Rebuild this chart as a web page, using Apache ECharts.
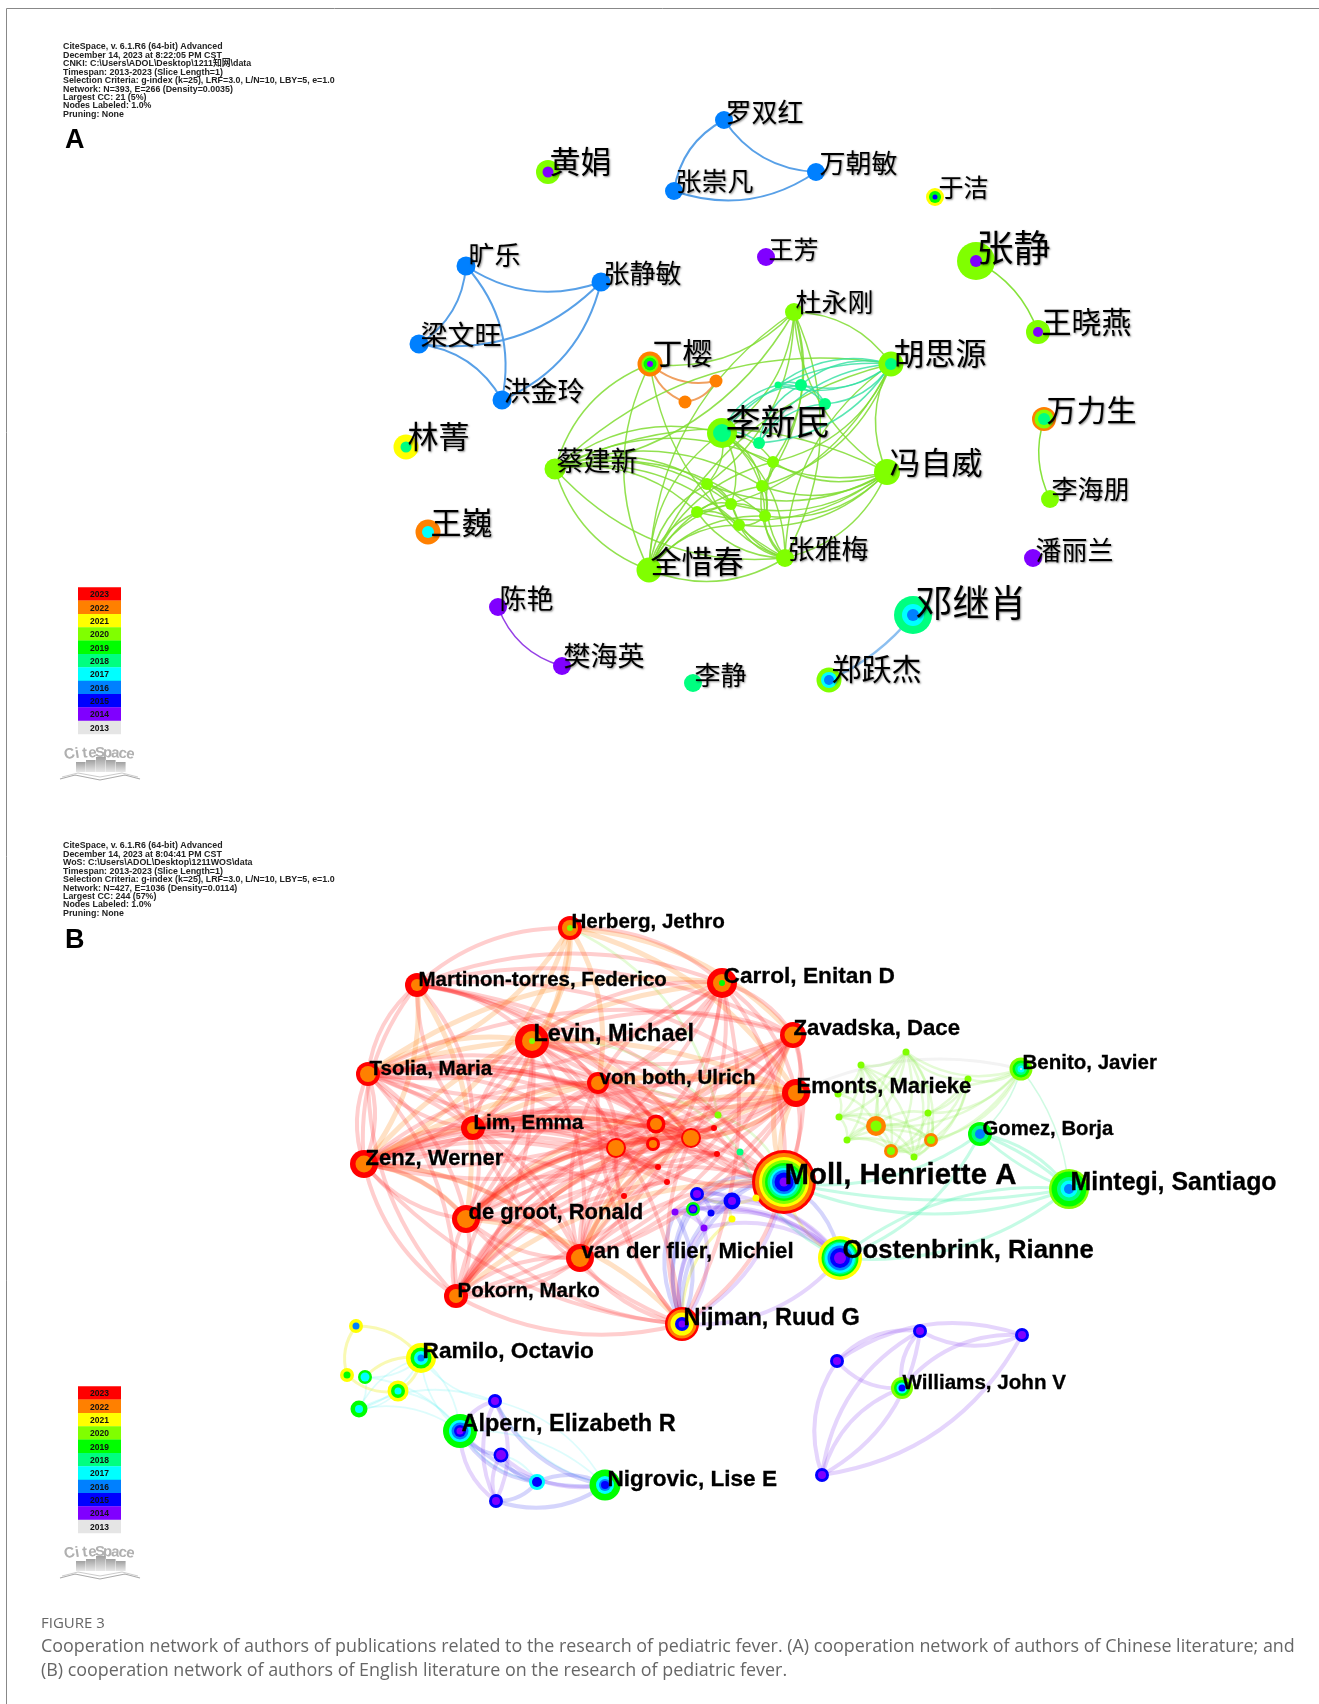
<!DOCTYPE html>
<html>
<head>
<meta charset="utf-8">
<title>Cooperation network of authors</title>
<style>
  html, body { margin: 0; padding: 0; background: #fff; }
  #main { width: 1319px; height: 1704px; }
</style>
<script src="https://cdn.jsdelivr.net/npm/echarts@6/dist/echarts.min.js"></script>
</head>
<body>
<div id="main"></div>
<script>
// 年份色标
const years = ['2023','2022','2021','2020','2019','2018','2017','2016','2015','2014','2013'];
const yearColors = ['#ff0000','#ff8000','#ffff00','#80ff00','#00ff00','#00ff80','#00ffff','#0080ff','#0000ff','#8000ff','#e5e5e5'];

// 节点: id, x, y, 年轮 [年份, 半径] (由外到内)
const nodesA = [
  ['huangjuan',548,172,[[2020,12],[2014,5.5]]],
  ['luo',724,120,[[2016,9]]],
  ['wanzhao',816,172,[[2016,9]]],
  ['zhangchong',674,191,[[2016,9]]],
  ['yujie',935,197,[[2021,9],[2019,6],[2015,2.5]]],
  ['wangfang',766,257,[[2014,9]]],
  ['zhangjing',976,261,[[2020,19],[2014,6]]],
  ['wangxiao',1038,332,[[2020,12],[2014,5]]],
  ['wanli',1044,419,[[2022,12],[2020,9.5],[2018,6]]],
  ['lihai',1050,499,[[2020,9]]],
  ['panli',1033,558,[[2014,9]]],
  ['deng',913,615,[[2018,19],[2017,11],[2016,6]]],
  ['zhengyue',829,680,[[2020,12.5],[2017,8],[2016,5]]],
  ['chenyan',498,607,[[2014,9]]],
  ['fanhai',562,666,[[2014,9]]],
  ['lijing',693,683,[[2018,9]]],
  ['kuang',466,266,[[2016,9.5]]],
  ['zhangmin',601,282,[[2016,9.5]]],
  ['liang',419,344,[[2016,9.5]]],
  ['hong',502,400,[[2016,9.5]]],
  ['linjing',406,447,[[2021,12.5],[2018,5.5]]],
  ['wangwei',428,532,[[2022,12.5],[2017,6]]],
  ['d',794,312,[[2020,9]]],
  ['h',891,364,[[2020,12.5],[2018,6]]],
  ['y',650,364,[[2022,12.5],[2020,8.5],[2019,6.5],[2014,3]]],
  ['o1',716,381,[[2022,6.5]]],
  ['o2',685,402,[[2022,6.5]]],
  ['l',722,433,[[2020,15],[2018,9]]],
  ['s0',759,443,[[2018,6]]],
  ['s1',778,385,[[2018,3.5]]],
  ['s2',801,385,[[2018,6]]],
  ['s3',825,404,[[2018,6]]],
  ['c',555,469,[[2020,10.5]]],
  ['f',887,472,[[2020,13]]],
  ['g1',773,462,[[2020,6]]],
  ['g2',707,484,[[2020,6]]],
  ['g3',762,486,[[2020,6]]],
  ['g4',731,504,[[2020,6]]],
  ['g5',697,512,[[2020,6]]],
  ['g6',765,516,[[2020,6]]],
  ['g7',739,525,[[2020,6]]],
  ['z',785,558,[[2020,9]]],
  ['q',649,570,[[2020,12.5]]]
];
const nodesB = [
  ['He',570,928,[[2023,12],[2022,8],[2020,3]]],
  ['Ma',417,985,[[2023,12],[2022,6]]],
  ['Ca',722,983,[[2023,15],[2022,9],[2019,3]]],
  ['Le',532,1041,[[2023,17],[2022,10],[2020,3]]],
  ['Za',793,1035,[[2023,13],[2022,8.5]]],
  ['Ts',368,1074,[[2023,12],[2022,8]]],
  ['Vo',598,1083,[[2023,11],[2022,7]]],
  ['Em',796,1093,[[2023,14],[2022,8]]],
  ['Li',473,1128,[[2023,12],[2022,6]]],
  ['r1',656,1124,[[2023,9.5],[2022,6]]],
  ['r2',653,1144,[[2023,7],[2022,4]]],
  ['r3',691,1138,[[2023,10],[2022,8]]],
  ['r4',616,1148,[[2023,10],[2022,8]]],
  ['Ze',364,1164,[[2023,14],[2022,8.5]]],
  ['Dg',466,1219,[[2023,14],[2022,9]]],
  ['Vf',580,1258,[[2023,14],[2022,9]]],
  ['Po',456,1296,[[2023,12],[2022,7]]],
  ['d1',714,1128,[[2023,3]]],
  ['d2',717,1154,[[2023,3]]],
  ['d3',658,1167,[[2023,3]]],
  ['d4',667,1182,[[2023,3]]],
  ['d5',624,1196,[[2023,3]]],
  ['gy',718,1115,[[2020,3.5]]],
  ['sp',740,1152,[[2018,3.5]]],
  ['Ni',682,1324,[[2023,17],[2022,14.5],[2021,11.5],[2015,7],[2014,3.5]]],
  ['Mo',784,1182,[[2023,32],[2022,29],[2021,25],[2020,22],[2019,19],[2018,16.5],[2017,14],[2016,12],[2015,9.5],[2014,4.5]]],
  ['Oo',840,1258,[[2021,22],[2019,18.5],[2018,16.5],[2017,15],[2016,12.5],[2015,10],[2014,6]]],
  ['p1',697,1194,[[2015,7],[2014,4]]],
  ['p2',732,1201,[[2015,8.5],[2014,4]]],
  ['p3',693,1209,[[2019,7],[2015,4.5],[2014,3]]],
  ['p4',675,1212,[[2014,3.5]]],
  ['p5',711,1213,[[2015,3.5]]],
  ['p6',704,1228,[[2014,3.5]]],
  ['ye1',756,1198,[[2021,3.5]]],
  ['ye2',732,1219,[[2021,3.5]]],
  ['c1',906,1052,[[2020,3.5]]],
  ['c2',861,1065,[[2020,3.5]]],
  ['c3',968,1079,[[2020,3.5]]],
  ['c4',838,1094,[[2020,3.5]]],
  ['c5',839,1117,[[2020,3.5]]],
  ['c6',847,1140,[[2020,3.5]]],
  ['c7',876,1126,[[2022,10],[2020,5.5]]],
  ['c8',928,1113,[[2020,3.5]]],
  ['c9',931,1140,[[2022,7],[2020,4]]],
  ['c10',891,1151,[[2022,7],[2020,4]]],
  ['c11',914,1157,[[2020,3.5]]],
  ['Be',1021,1069,[[2020,11.5],[2019,8.5],[2018,6],[2017,3.5],[2013,1]]],
  ['Go',980,1134,[[2019,12],[2018,8.5],[2016,5]]],
  ['Mi',1069,1189,[[2020,20],[2019,17.5],[2018,12],[2017,8.5],[2016,5]]],
  ['b1',356,1326,[[2021,7],[2016,3.5]]],
  ['Ra',421,1358,[[2021,15],[2019,10.5],[2017,7],[2016,3.5]]],
  ['b2',347,1375,[[2021,7],[2019,3.5]]],
  ['b3',365,1377,[[2019,7],[2017,4.5]]],
  ['b4',398,1391,[[2021,10.5],[2019,7],[2017,3.5]]],
  ['b5',359,1409,[[2019,8.5],[2017,4]]],
  ['b6',495,1401,[[2015,7],[2014,4]]],
  ['Al',460,1431,[[2019,17],[2017,11],[2016,8.5],[2015,6],[2014,3.5]]],
  ['b7',501,1455,[[2015,7.5],[2014,5]]],
  ['b8',537,1482,[[2017,8],[2015,5]]],
  ['b9',496,1501,[[2015,7],[2014,4]]],
  ['Ng',605,1485,[[2019,15.5],[2017,9],[2016,6],[2015,4]]],
  ['w1',920,1331,[[2015,7],[2014,4]]],
  ['w2',1022,1335,[[2015,7],[2014,4]]],
  ['w3',837,1361,[[2015,7],[2014,4]]],
  ['Wi',902,1388,[[2020,11],[2019,8],[2017,5.5],[2015,3.5]]],
  ['w4',822,1475,[[2015,7],[2014,4]]]
];

// 连线: 'a-b' 从 a 到 b, 弧线向行进方向左侧弯曲
const blueEdges = 'kuang-liang kuang-hong zhangmin-liang zhangmin-hong zhangmin-kuang liang-hong zhangchong-luo wanzhao-luo wanzhao-zhangchong'.split(' ');
const singleEdges = ['zhangjing-wangxiao','lihai-wanli'];
const violetEdgesA = ['fanhai-chenyan'];
const azureEdgesA = ['deng-zhengyue'];
const orangeEdgesA = ['o1-y','o2-y','o1-o2'];
const greenEdgesA = ('d-y c-y q-y z-y d-h d-c q-d d-z f-d d-l c-h q-h z-h f-h f-z q-c z-q c-f z-c c-l q-l l-z f-l ' +
  'q-g1 q-g2 q-g3 q-g4 q-g5 q-g6 q-g7 c-g1 c-g2 c-g3 c-g4 c-g5 c-g6 c-g7 ' +
  'f-g1 f-g2 f-g3 f-g4 f-g5 f-g6 f-g7 z-g1 z-g2 z-g3 z-g4 z-g5 z-g6 z-g7 ' +
  'l-g1 l-g2 l-g3 l-g4 l-g6 d-g1 d-g3 d-g2 h-g1 h-g3 h-g5 g2-g4 g2-g7 g5-g4 g1-g3 g3-g6 g4-g6 g5-g7 g6-g7').split(' ');
const springEdgesA = 'l-h s0-h h-s0 h-s1 s1-h s2-h h-s2 h-s3 l-s1 l-s2 l-s0 s1-s2 s2-s3 s1-s3 s0-s3 s0-s2'.split(' ');

const redEdges = ('He-Ca Ma-He Ma-Ca Ma-Za Ma-Em Ma-Mo Ma-Le Ma-Vo Ma-r1 Ma-r3 Ma-Li Li-Ma Ze-Ma Ts-Ma Ze-Ts Ts-Ze ' +
  'Ca-Za Ca-Em Ca-Mo Ca-Vo Vo-Ca Ca-r3 Ca-r1 Ca-Le Le-Ca Ca-Dg Ca-Li Ca-Vf Ca-Ni Ca-Ts Za-Em Za-Mo Za-Le Le-Za Za-Vo Za-r1 Za-r3 Za-r4 Za-Li Za-Ts Ts-Za Za-Dg Za-Vf Za-Ze Za-Po ' +
  'Em-Mo Em-Le Em-Vo Em-r3 Em-Ts Em-Li Em-Ze Em-Dg Em-Po Em-Vf ' +
  'Le-Ts Le-Li Li-Le Le-Vo Le-r1 Le-r4 Le-Ze Le-Dg Le-Mo Le-Vf Le-Ni Le-Po ' +
  'Ts-Li Li-Ts Ts-Vo Ts-r1 Ts-r2 Ts-r4 Ts-r3 Ts-d1 Ts-d2 Ts-Mo Ts-Dg Ts-Vf Ts-Po Po-Ts ' +
  'Li-r1 Li-r2 Li-r3 Li-r4 Li-Vo Li-Ze Ze-Li Li-Dg Li-Vf Li-Mo Li-d3 Li-d4 ' +
  'Ze-r1 Ze-r2 Ze-r3 Ze-r4 Ze-Vo Ze-Dg Dg-Ze Ze-d3 Ze-d4 Ze-d5 Ze-Mo Po-Ze Ze-Vf ' +
  'Dg-r1 Dg-r2 Dg-r3 Dg-r4 Dg-Vo Dg-d1 Dg-d2 Dg-Mo Po-Dg Dg-Po Dg-Vf Vf-Dg ' +
  'Po-r1 Po-r2 Po-r3 Po-r4 Po-Vo Po-d1 Po-d2 Po-d4 Po-Vf Vf-Po Ni-Po Ni-Vf Ni-Dg Ni-Li Ni-Ze Ni-Vo Ni-r4 ' +
  'Vf-r1 Vf-r2 Vf-r3 Vf-r4 Vf-Vo Vf-Mo Vf-d2 Mo-Ni Ni-r3 ' +
  'Vo-r1 Vo-r2 Vo-r3 Vo-r4 r1-r3 r2-r3 r4-r1 r4-r2 r4-r3 r1-r2 d1-r1 d1-r3 d2-r3 d2-r1 d3-r4 d4-r3 d5-r4 d5-r3 Mo-r3 Mo-r1 Mo-d1 Mo-d2 Mo-r4').split(' ');
const orangeEdges = ('He-Le He-Ze He-Ts He-Li He-Vo He-Za He-Em Ma-Dg Ze-Em Ze-r3 Ts-Le Ts-Ca Le-r3 Li-Em Dg-Em Dg-r3 Po-Em Po-Mo Vf-Em Vf-Za ' +
  'Ze-Dg Ts-Em Ma-Ze Ze-Vf Dg-Ni Vf-r3 Em-r3 Mo-Em Mo-Za Ze-Ca').split(' ');
const limeEdgesB = ('He-gy Le-gy Vo-sp gy-Mo ' +
  'c1-c2 c2-c4 c1-c4 c1-c5 c1-c6 c7-c1 c2-c5 c2-c6 c2-c7 c4-c5 c5-c6 c4-c7 c5-c7 c6-c7 c7-c10 c6-c10 ' +
  'c1-c8 c1-c9 c1-c10 c1-c11 c3-c1 c3-c8 c3-c9 c3-c10 c3-c11 c3-c7 c8-c9 c8-c10 c8-c11 c9-c10 c9-c11 c10-c11 c2-c10 c2-c11 ' +
  'c7-c9 c7-c11 c7-c8 c6-c11 c6-c9 c5-c9 c5-c10 Be-c1 Be-c3 Be-c7 Be-c8 Be-c9 Be-c10 Be-c2').split(' ');
const paleEdges = ['Em-Be'];
const springEdges = 'Oo-sp Go-Mi Mi-Mo Oo-Mi Go-Mo Go-Oo Mi-Oo'.split(' ');
const springFlatEdges = 'Mi-Mo Go-Mi Mi-Go'.split(' ');
const thinEdges = 'Be-Go Be-Mi'.split(' ');
const blueEdgesB = ('Mo-Oo Ni-p1 Ni-p2 Ni-p3 Ni-p5 p1-p2 p2-p1 p1-p5 p3-p5 p2-p5 p1-Mo p2-Mo p3-Mo p5-Mo Ni-p4 p4-Ni ' +
  'b8-Al Ng-Al b8-b7 Ng-b6 b8-b9 Ng-b9 b8-Ng b7-Al').split(' ');
const violetEdgesB = ('Oo-Ni p1-Oo p2-Oo p3-Oo p4-Oo p5-Oo p6-Oo Ni-p6 p6-Ni p4-p6 p6-p2 p6-p1 p4-p3 p3-p2 Mo-Ni ' +
  'Al-b6 b9-b6 b6-b9 b9-Al b9-b7 Ng-b7 w4-w3 w3-w1 w2-w1 w3-w2 w2-w4 w4-w1 w1-w4 Wi-w3 Wi-w1 Wi-w2 w4-Wi').split(' ');
const yellowEdges = 'Oo-Mo Ni-ye2 ye2-p2 ye1-p1 b1-Ra Ra-b4 b2-b1 b4-b2 b3-Ra'.split(' ');
const cyanEdges = 'Ra-b3 Ra-b5 b5-Ra b5-Al b3-b5 b4-b5 b3-Al Ra-Al Al-Ra b4-Al b6-Ra b5-b6 Al-Ng Ng-b6 b6-Ng b8-Al b7-b8'.split(' ');

// 图内文字: 文字, x, y, 字号
const labelsA = [
  ['黄娟',549,161,31],['罗双红',725,112,26],['万朝敏',819,163,26],['张崇凡',675,181,26],['于洁',938,187,25],
  ['王芳',768,249,25],['张静',976,248,37],['旷乐',468,255,26],['张静敏',603,273,26],['杜永刚',795,302,26],
  ['梁文旺',420,335,27],['丁樱',652,353,30],['胡思源',893,353,31],['王晓燕',1041,322,30],['洪金玲',503,391,27],
  ['万力生',1046,410,30],['林菁',407,436,31],['李新民',725,422,35],['蔡建新',556,461,27],['冯自威',889,462,31],
  ['李海朋',1051,489,26],['王巍',430,522,31],['张雅梅',787,549,27],['潘丽兰',1035,550,26],['全惜春',650,561,31],
  ['陈艳',499,599,27],['邓继肖',915,603,37],['樊海英',563,656,27],['郑跃杰',831,669,30],['李静',694,675,26]
];
const labelsB = [
  ['Herberg, Jethro',571,922,20.6],['Martinon-torres, Federico',418,980,20.5],['Carrol, Enitan D',723,977,22.7],
  ['Levin, Michael',533,1035,23.5],['Zavadska, Dace',793,1029,22.2],['Tsolia, Maria',369,1069,20.5],
  ['von both, Ulrich',599,1078,20.5],['Emonts, Marieke',796,1087,22],['Lim, Emma',473,1123,20.6],
  ['Zenz, Werner',365,1159,22],['de groot, Ronald',468,1213,22],['van der flier, Michiel',581,1252,22.2],
  ['Pokorn, Marko',457,1291,20.5],['Nijman, Ruud G',683,1319,23.5],['Moll, Henriette A',784,1176,29.4],
  ['Mintegi, Santiago',1070,1183,24.9],['Oostenbrink, Rianne',842,1251,25.7],['Gomez, Borja',982,1129,20.3],
  ['Benito, Javier',1022,1063,20.5],['Ramilo, Octavio',422,1352,22.7],['Alpern, Elizabeth R',461,1425,23.5],
  ['Nigrovic, Lise E',607,1480,22.6],['Williams, John V',902,1383,20.6]
];

// 左上角说明
const infoA = ['CiteSpace, v. 6.1.R6 (64-bit) Advanced','December 14, 2023 at 8:22:05 PM CST','CNKI: C:\\Users\\ADOL\\Desktop\\1211知网\\data',
  'Timespan: 2013-2023 (Slice Length=1)','Selection Criteria: g-index (k=25), LRF=3.0, L/N=10, LBY=5, e=1.0','Network: N=393, E=266 (Density=0.0035)',
  'Largest CC: 21 (5%)','Nodes Labeled: 1.0%','Pruning: None'];
const infoB = ['CiteSpace, v. 6.1.R6 (64-bit) Advanced','December 14, 2023 at 8:04:41 PM CST','WoS: C:\\Users\\ADOL\\Desktop\\1211WOS\\data',
  'Timespan: 2013-2023 (Slice Length=1)','Selection Criteria: g-index (k=25), LRF=3.0, L/N=10, LBY=5, e=1.0','Network: N=427, E=1036 (Density=0.0114)',
  'Largest CC: 244 (57%)','Nodes Labeled: 1.0%','Pruning: None'];
const captionTitle = 'FIGURE 3';
const captionLines = ['Cooperation network of authors of publications related to the research of pediatric fever. (A) cooperation network of authors of Chinese literature; and',
  '(B) cooperation network of authors of English literature on the research of pediatric fever.'];

const panelOffset = 799; // B 与 A 的纵向间距
const allNodes = nodesA.concat(nodesB);
const colorOf = y => yearColors[years.indexOf(String(y))];

// 连线分组 -> graph links
function toLinks(list, color, width, opacity, curveness) {
  return list.map(e => {
    const p = e.split('-');
    return { source: p[0], target: p[1], lineStyle: { color, width, opacity, curveness } };
  });
}
const links = [].concat(
  toLinks(blueEdges, '#4f9be6', 2, 0.95, 0.25),
  toLinks(singleEdges, '#80e030', 1.5, 0.95, 0.2),
  toLinks(violetEdgesA, '#8a2be2', 1.5, 0.9, 0.25),
  toLinks(azureEdgesA, '#7fb8ee', 2.5, 0.9, 0.12),
  toLinks(orangeEdgesA, '#f0a060', 2, 1, 0.25),
  toLinks(greenEdgesA, '#7fdc30', 1.5, 0.85, 0.25),
  toLinks(springEdgesA, '#30e0a0', 1.5, 0.8, 0.25),
  toLinks(paleEdges, '#e8e8e8', 3, 0.5, 0.18),
  toLinks(limeEdgesB, '#90f050', 2.5, 0.24, 0.25),
  toLinks(springEdges, '#30f0a0', 3, 0.28, 0.2),
  toLinks(springFlatEdges, '#30f0a0', 3, 0.28, 0.1),
  toLinks(thinEdges, '#60f0a0', 1.5, 0.3, 0.15),
  toLinks(cyanEdges, '#40f0f0', 1.8, 0.18, 0.22),
  toLinks(yellowEdges, '#f0f040', 3, 0.4, 0.25),
  toLinks(blueEdgesB, '#4040f0', 4, 0.22, 0.25),
  toLinks(violetEdgesB, '#8a40f0', 4, 0.22, 0.25),
  toLinks(orangeEdges, '#ff8a20', 5, 0.26, 0.2),
  toLinks(redEdges, '#ff2020', 4, 0.22, 0.2)
);

// 节点年轮展开成散点
const ringData = [];
allNodes.forEach(n => n[3].forEach(r => ringData.push([n[1], n[2], r[1], r[0]])));

// 色标
const legendData = [];
[0, panelOffset].forEach(off => years.forEach((y, i) => legendData.push([99.5, 594 + i * 13.35 + off, y])));

const option = {
  animation: false,
  backgroundColor: '#fff',
  grid: { left: 0, right: 0, top: 0, bottom: 0 },
  xAxis: { type: 'value', min: 0, max: 1319, show: false },
  yAxis: { type: 'value', min: 0, max: 1704, inverse: true, show: false },
  series: [
    {
      type: 'graph', coordinateSystem: 'cartesian2d', layout: 'none', symbol: 'none', silent: true,
      data: allNodes.map(n => ({ name: n[0], value: [n[1], n[2]] })),
      links,
      label: { show: false },
      z: 1
    },
    {
      name: 'rings', type: 'scatter', silent: true, z: 2,
      data: ringData,
      symbolSize: v => v[2] * 2,
      itemStyle: { opacity: 1, color: p => colorOf(p.value[3]) }
    },
    {
      name: 'labelsA', type: 'scatter', silent: true, z: 3, symbolSize: 1,
      itemStyle: { color: 'transparent', opacity: 1 }, // 散点默认 0.8 会让文字发灰
      data: labelsA.map(l => ({ value: [l[1], l[2]], name: l[0], label: { fontSize: l[3] } })),
      label: {
        show: true, position: 'right', distance: 0, formatter: '{b}', color: '#000',
        fontFamily: '"Noto Sans CJK SC"', textShadowColor: 'rgba(0,0,0,0.45)', textShadowBlur: 2, textShadowOffsetX: 1, textShadowOffsetY: 1
      }
    },
    {
      name: 'labelsB', type: 'scatter', silent: true, z: 3, symbolSize: 1,
      itemStyle: { color: 'transparent', opacity: 1 },
      data: labelsB.map(l => ({ value: [l[1], l[2]], name: l[0], label: { fontSize: l[3] } })),
      label: {
        show: true, position: 'right', distance: 0, formatter: '{b}', color: '#000',
        fontFamily: '"Liberation Sans"', fontWeight: 'bold', textBorderColor: '#000', textBorderWidth: 0.3
      }
    },
    {
      name: 'yearLegend', type: 'scatter', silent: true, z: 2, symbol: 'rect', symbolSize: [43, 13.6],
      data: legendData,
      itemStyle: { opacity: 1, color: p => colorOf(p.value[2]) },
      label: {
        show: true, position: 'inside', formatter: p => p.value[2], color: '#111',
        fontFamily: '"Liberation Sans"', fontWeight: 'bold', fontSize: 8.5, offset: [0, 1]
      }
    }
  ],
  graphic: { elements: buildGraphic() }
};

// 边框, 说明文字, 图注, CiteSpace 标志
function buildGraphic() {
  const els = [
    { type: 'line', shape: { x1: 6.5, y1: 8.5, x2: 1319, y2: 8.5 }, style: { stroke: '#888', lineWidth: 1 } },
    { type: 'line', shape: { x1: 6.5, y1: 8.5, x2: 6.5, y2: 1704 }, style: { stroke: '#888', lineWidth: 1 } }
  ];
  const text = (x, y, t, font, fill) => ({ type: 'text', x, y, style: { text: t, font, fill, textVerticalAlign: 'middle' } });
  infoA.forEach((t, i) => els.push(text(63, 47 + i * 8.42, t, 'bold 8.85px "Liberation Sans", "Noto Sans CJK SC"', '#222')));
  infoB.forEach((t, i) => els.push(text(63, 47 + panelOffset + i * 8.42, t, 'bold 8.85px "Liberation Sans", "Noto Sans CJK SC"', '#222')));
  els.push(text(65, 141, 'A', 'bold 27px "Liberation Sans"', '#000'));
  els.push(text(65, 941, 'B', 'bold 27px "Liberation Sans"', '#000'));
  els.push(text(41, 1624, captionTitle, '15px "Open Sans"', '#666'));
  captionLines.forEach((t, i) => els.push(text(41, 1647 + i * 24, t, '17.9px "Open Sans"', '#666')));
  [0, panelOffset].forEach(off => {
    const letters = 'CiteSpace'.split('');
    letters.forEach((ch, i) => {
      const a = (i - 4) * 0.05;
      els.push({
        type: 'text', x: 100 + (i - 4) * 7.6, y: 756 + off - 3 * Math.cos(a * 5), rotation: -a,
        style: { text: ch, font: 'bold 15px "Liberation Sans"', fill: '#b0b0b0', textAlign: 'center', textVerticalAlign: 'middle' }
      });
    });
    [[76, 10], [86, 12], [96, 15], [106, 12], [116, 10]].forEach(b => {
      els.push({
        type: 'rect', shape: { x: b[0], y: 774 + off - b[1] - 2, width: 9.6, height: b[1] },
        style: { fill: new echarts.graphic.LinearGradient(0, 0, 0, 1, [{ offset: 0, color: '#a0a0a0' }, { offset: 1, color: '#e8e8e8' }]) }
      });
    });
    els.push({ type: 'polyline', shape: { points: [[60, 779 + off], [75, 775 + off], [100, 780 + off], [125, 775 + off], [140, 779 + off]] }, style: { stroke: '#aaa', fill: 'none', lineWidth: 1.2 } });
    els.push({ type: 'polyline', shape: { points: [[62, 777 + off], [78, 773 + off], [100, 777 + off], [122, 773 + off], [138, 777 + off]] }, style: { stroke: '#ccc', fill: 'none', lineWidth: 1 } });
  });
  return els;
}

const myChart = echarts.init(document.getElementById('main'));
myChart.setOption(option);
window.addEventListener('resize', () => myChart.resize());
</script>
</body>
</html>
